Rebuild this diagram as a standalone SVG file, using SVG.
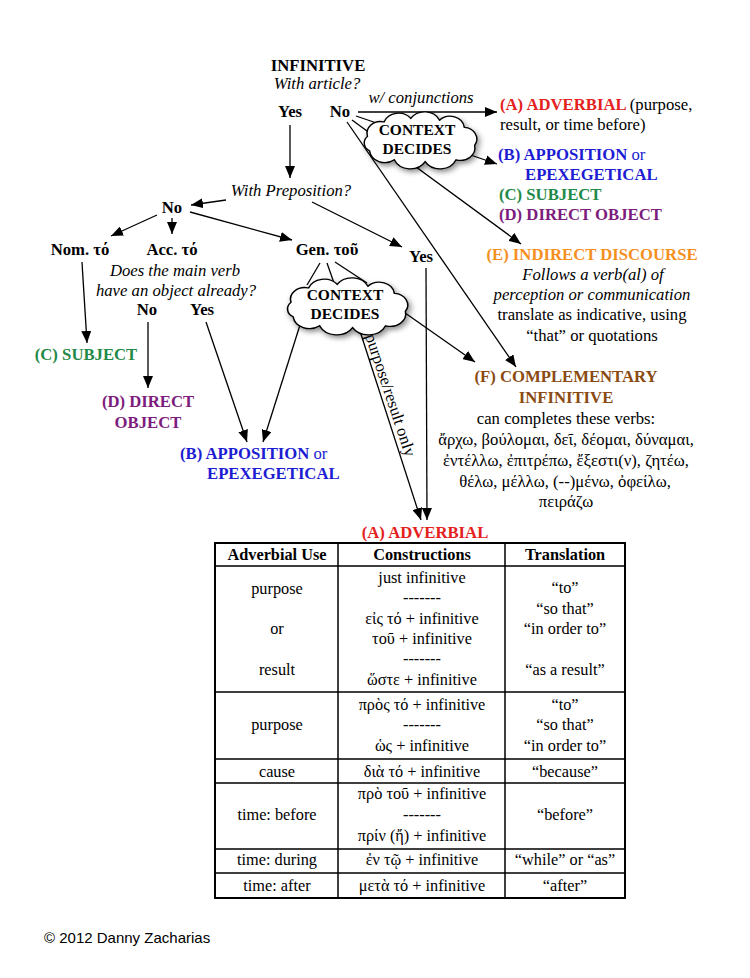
<svg xmlns="http://www.w3.org/2000/svg" xmlns:xlink="http://www.w3.org/1999/xlink" width="750" height="978" viewBox="0 0 750 978">
<style>
text{font-family:"Liberation Serif","Times New Roman",serif;font-size:16.7px;fill:#000}
.b{font-weight:bold}
.i{font-style:italic}
.c{text-anchor:middle}
.cl{font-size:15.5px;font-weight:bold;text-anchor:middle}
.tt{font-size:16.3px}
.red{fill:#e4211d}
.blue{fill:#1c1cd2}
.green{fill:#1f8a47}
.purple{fill:#7c1c7d}
.orange{fill:#f5901f}
.brown{fill:#8a4a12}
.n{font-weight:normal}
.ln{stroke:#000;stroke-width:1.3;fill:none}
.ar{marker-end:url(#ah)}
.cloud{fill:#fff;stroke:#000;stroke-width:1.4}
.tb{stroke:#000;stroke-width:1.5;fill:none}
.copy{font-family:"Liberation Sans",Arial,sans-serif;font-size:15px}
</style>
<defs>
<marker id="ah" viewBox="0 0 12 10" refX="12" refY="5" markerWidth="12" markerHeight="10" orient="auto" markerUnits="userSpaceOnUse"><path d="M0,0 L12,5 L0,10 z" fill="#000"/></marker>
<filter id="sh" x="-20%" y="-30%" width="150%" height="170%"><feDropShadow dx="2" dy="3" stdDeviation="3" flood-color="#000" flood-opacity="0.45"/></filter>
<path id="cloudp" d="M-50,-4 A13 13 0 0 1 -34,-20 A15 15 0 0 1 -8,-24 A16 16 0 0 1 20,-22 A14 14 0 0 1 44,-14 A13 13 0 0 1 54,6 A14 14 0 0 1 36,22 A17 17 0 0 1 6,24 A17 17 0 0 1 -24,22 A15 15 0 0 1 -48,12 A10 10 0 0 1 -50,-4 Z"/>
</defs>
<rect width="750" height="978" fill="#fff"/>

<g id="connectors">
<path class="ln ar" d="M290,125 L290,178"/>
<path class="ln ar" d="M358,112 L497,112"/>
<path class="ln ar" d="M356,116 L497,164"/>
<path class="ln ar" d="M352,120 L521,244"/>
<path class="ln ar" d="M347,122 L516,367"/>
<path class="ln ar" d="M226,200 L191,205"/>
<path class="ln ar" d="M312,202 L402,247"/>
<path class="ln ar" d="M157,215 L111,236"/>
<path class="ln ar" d="M172,218 L172,234"/>
<path class="ln ar" d="M190,212 L292,240"/>
<path class="ln ar" d="M82,262 L87,343"/>
<path class="ln ar" d="M148,322 L148,388"/>
<path class="ln ar" d="M206,322 L247,442"/>
<path class="ln" d="M320,263 L307,285"/>
<path class="ln" d="M327,263 L334,283"/>
<path class="ln" d="M335,262 L367,283"/>
<path class="ln ar" d="M300,325 L263,442"/>
<path class="ln ar" d="M358,325 L421,520"/>
<path class="ln ar" d="M398,308 L475,362"/>
<path class="ln ar" d="M426,268 L427,520"/>
<text transform="translate(365,336) rotate(71.5)">purpose/result only</text>
</g>

<g id="infinitive">
<text class="b c" x="318" y="71">INFINITIVE</text>
<text class="i c" x="317" y="89">With article?</text>
</g>
<g id="yes-top"><text class="b c" x="290" y="117">Yes</text></g>
<g id="no-top"><text class="b c" x="340" y="117">No</text></g>
<g id="conj-label"><text class="i c" x="421" y="103">w/ conjunctions</text></g>

<g id="cloud1">
<use xlink:href="#cloudp" class="cloud" filter="url(#sh)" transform="translate(419,140) scale(1.03,0.9)" vector-effect="non-scaling-stroke"/>
<text class="cl" x="417" y="135">CONTEXT</text>
<text class="cl" x="417" y="154">DECIDES</text>
</g>

<g id="a-adverbial-top">
<text class="b red" x="500" y="110">(A) ADVERBIAL <tspan class="n" style="fill:#000">(purpose,</tspan></text>
<text x="500" y="130">result, or time before)</text>
</g>
<g id="b-top">
<text class="b blue" x="498" y="160">(B) APPOSITION <tspan class="n">or</tspan></text>
<text class="b blue" x="525" y="180">EPEXEGETICAL</text>
</g>
<g id="c-top"><text class="b green" x="499" y="200">(C) SUBJECT</text></g>
<g id="d-top"><text class="b purple" x="499" y="220">(D) DIRECT OBJECT</text></g>

<g id="with-prep"><text class="i c" x="291" y="196">With Preposition?</text></g>
<g id="no-mid"><text class="b c" x="172" y="213">No</text></g>
<g id="nom"><text class="b c" x="80" y="255">Nom. τό</text></g>
<g id="acc"><text class="b c" x="172" y="255">Acc. τό</text></g>
<g id="gen"><text class="b c" x="327" y="255">Gen. τοῦ</text></g>
<g id="yes-mid"><text class="b c" x="421" y="262">Yes</text></g>
<g id="object-q">
<text class="i c" x="175" y="276">Does the main verb</text>
<text class="i c" x="176" y="295.5">have an object already?</text>
</g>
<g id="no-acc"><text class="b c" x="147" y="315">No</text></g>
<g id="yes-acc"><text class="b c" x="202" y="315">Yes</text></g>

<g id="cloud2">
<use xlink:href="#cloudp" class="cloud" filter="url(#sh)" transform="translate(346,306) scale(1.1,0.9)" vector-effect="non-scaling-stroke"/>
<text class="cl" x="345" y="300">CONTEXT</text>
<text class="cl" x="345" y="319">DECIDES</text>
</g>

<g id="c-left"><text class="b green c" x="86" y="360">(C) SUBJECT</text></g>
<g id="d-left">
<text class="b purple c" x="148" y="407">(D) DIRECT</text>
<text class="b purple c" x="148" y="428">OBJECT</text>
</g>
<g id="b-left">
<text class="b blue" x="180" y="459">(B) APPOSITION <tspan class="n">or</tspan></text>
<text class="b blue" x="207" y="479">EPEXEGETICAL</text>
</g>

<g id="e-indirect">
<text class="b orange c" x="592" y="260">(E) INDIRECT DISCOURSE</text>
<text class="i c" x="593" y="280">Follows a verb(al) of</text>
<text class="i c" x="592" y="300">perception or communication</text>
<text class="c" x="592" y="320">translate as indicative, using</text>
<text class="c" x="592" y="341">“that” or quotations</text>
</g>

<g id="f-complementary">
<text class="b brown c" x="566" y="382">(F) COMPLEMENTARY</text>
<text class="b brown c" x="566" y="403">INFINITIVE</text>
<text class="c" x="566" y="424">can completes these verbs:</text>
<text class="c" x="566" y="445">ἄρχω, βούλομαι, δεῖ, δέομαι, δύναμαι,</text>
<text class="c" x="566" y="466">ἐντέλλω, ἐπιτρέπω, ἔξεστι(ν), ζητέω,</text>
<text class="c" x="565" y="487">θέλω, μέλλω, (--)μένω, ὀφείλω,</text>
<text class="c" x="566" y="507">πειράζω</text>
</g>

<g id="a-adverbial-table" class="tt">
<text class="b red c" x="425" y="538">(A) ADVERBIAL</text>
<rect x="215" y="543" width="410" height="355" fill="none" stroke="#000" stroke-width="2"/>
<path class="tb" d="M338,543 V898 M505,543 V898 M215,566 H625 M215,692 H625 M215,759 H625 M215,783 H625 M215,849 H625 M215,873 H625"/>
<text class="b c tt" x="277" y="560">Adverbial Use</text>
<text class="b c tt" x="422" y="560">Constructions</text>
<text class="b c tt" x="565" y="560">Translation</text>

<text class="c tt" x="277" y="594">purpose</text>
<text class="c tt" x="277" y="634">or</text>
<text class="c tt" x="277" y="675">result</text>
<text class="c tt" x="422" y="583">just infinitive</text>
<text class="c tt" x="422" y="603">-------</text>
<text class="c tt" x="422" y="624">εἰς τό + infinitive</text>
<text class="c tt" x="422" y="644">τοῦ + infinitive</text>
<text class="c tt" x="422" y="664">-------</text>
<text class="c tt" x="422" y="685">ὥστε + infinitive</text>
<text class="c tt" x="565" y="593">“to”</text>
<text class="c tt" x="565" y="614">“so that”</text>
<text class="c tt" x="565" y="634">“in order to”</text>
<text class="c tt" x="565" y="675">“as a result”</text>

<text class="c tt" x="277" y="730">purpose</text>
<text class="c tt" x="422" y="710">πρὸς τό + infinitive</text>
<text class="c tt" x="422" y="730">-------</text>
<text class="c tt" x="422" y="751">ὡς + infinitive</text>
<text class="c tt" x="565" y="710">“to”</text>
<text class="c tt" x="565" y="730">“so that”</text>
<text class="c tt" x="565" y="751">“in order to”</text>

<text class="c tt" x="277" y="777">cause</text>
<text class="c tt" x="422" y="777">διὰ τό + infinitive</text>
<text class="c tt" x="565" y="777">“because”</text>

<text class="c tt" x="277" y="820">time: before</text>
<text class="c tt" x="422" y="799">πρὸ τοῦ + infinitive</text>
<text class="c tt" x="422" y="820">-------</text>
<text class="c tt" x="422" y="841">πρίν (ἤ) + infinitive</text>
<text class="c tt" x="565" y="820">“before”</text>

<text class="c tt" x="277" y="865">time: during</text>
<text class="c tt" x="422" y="865">ἐν τῷ + infinitive</text>
<text class="c tt" x="565" y="865">“while” or “as”</text>

<text class="c tt" x="277" y="891">time: after</text>
<text class="c tt" x="422" y="891">μετὰ τό + infinitive</text>
<text class="c tt" x="565" y="891">“after”</text>
</g>

<g id="copyright"><text class="copy" x="44" y="943">© 2012 Danny Zacharias</text></g>
</svg>
